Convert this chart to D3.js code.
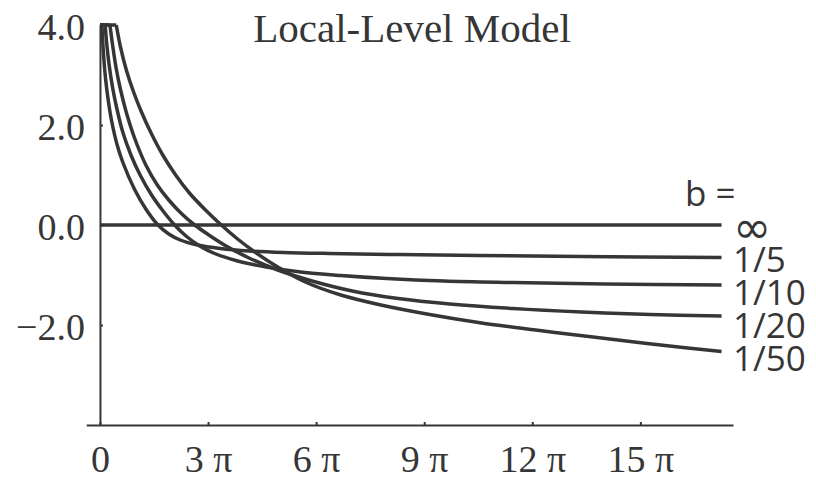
<!DOCTYPE html>
<html>
<head>
<meta charset="utf-8">
<script src="https://cdn.jsdelivr.net/npm/d3@7"></script>
<style>
  body { margin: 0; background: #fff; }
</style>
</head>
<body>
<div id="chart"></div>
<script>
// curve labels, right side
const bNames = ["∞", "1/5", "1/10", "1/20", "1/50"];

// x values are plain numbers (the axis shows them in multiples of pi)
const xInf = [0, 54.2];
const yInf = [0, 0];

const x5 = [0.17, 0.3, 0.5, 0.75, 1.0, 1.5, 2.0, 3.0, 4.0, 5.06, 6.0, 7.0, 8.5, 10.5, 13, 16, 20, 26, 33, 42, 54.2];
const y5 = [4.0, 3.45, 2.9, 2.45, 2.1, 1.6, 1.25, 0.72, 0.32, 0, -0.18, -0.3, -0.4, -0.47, -0.52, -0.55, -0.57, -0.59, -0.61, -0.63, -0.65];

const x10 = [0.45, 0.6, 0.8, 1.1, 1.5, 2.0, 2.7, 3.5, 4.5, 5.5, 6.51, 7.5, 8.7, 10, 12, 14.5, 17.5, 21, 25, 30, 36, 44, 54.2];
const y10 = [4.0, 3.6, 3.2, 2.75, 2.3, 1.85, 1.4, 1.0, 0.6, 0.28, 0, -0.22, -0.42, -0.57, -0.72, -0.84, -0.94, -1.01, -1.07, -1.12, -1.15, -1.18, -1.2];

const x20 = [0.87, 1.1, 1.4, 1.8, 2.3, 3.0, 4.0, 5.0, 6.0, 7.1, 8.26, 9.5, 11, 13, 15.5, 18.5, 22, 26, 30.5, 36, 42, 48, 54.2];
const y20 = [4.0, 3.6, 3.15, 2.7, 2.25, 1.75, 1.2, 0.8, 0.5, 0.23, 0, -0.2, -0.42, -0.66, -0.9, -1.12, -1.32, -1.47, -1.58, -1.67, -1.74, -1.79, -1.82];

const x50 = [1.42, 1.8, 2.3, 2.9, 3.6, 4.5, 5.5, 6.6, 7.8, 9.2, 10.58, 12, 13.5, 15.5, 18, 21, 24.5, 28.5, 33, 38, 43, 48.5, 54.2];
const y50 = [4.0, 3.55, 3.1, 2.68, 2.27, 1.82, 1.39, 1.0, 0.64, 0.3, 0, -0.28, -0.54, -0.84, -1.15, -1.4, -1.6, -1.78, -1.95, -2.1, -2.24, -2.39, -2.53];

// tick values
const xTickMult = [0, 3, 6, 9, 12, 15];
const yTickVals = [4, 2, 0, -2];

const series = [
  { name: bNames[0], xs: xInf, ys: yInf },
  { name: bNames[1], xs: x5, ys: y5 },
  { name: bNames[2], xs: x10, ys: y10 },
  { name: bNames[3], xs: x20, ys: y20 },
  { name: bNames[4], xs: x50, ys: y50 }
];

const width = 816, height = 479;
const ink = "#363636";
const serif = "'Liberation Serif', 'Times New Roman', serif";
const sans = "'Open Sans', 'Noto Sans', sans-serif";

const svg = d3.select("#chart")
  .append("svg")
  .attr("width", width)
  .attr("height", height);

const x = d3.scaleLinear()
  .domain([-1.2, 55.2])
  .range([86.2, 733]);

const y = d3.scaleLinear()
  .domain([-4, 4])
  .range([425, 25]);

// title
svg.append("text")
  .attr("x", 412)
  .attr("y", 42)
  .attr("text-anchor", "middle")
  .style("font-family", serif)
  .style("font-size", "41px")
  .style("fill", ink)
  .text("Local-Level Model");

// x axis
const xAxis = svg.append("g")
  .attr("transform", "translate(0," + y(-4) + ")")
  .call(d3.axisBottom(x)
    .tickValues(xTickMult.map(m => m * Math.PI))
    .tickSizeInner(-3)
    .tickSizeOuter(0)
    .tickPadding(20)
    .tickFormat((d, i) => xTickMult[i] === 0 ? "0" : xTickMult[i] + " π"));

// y axis
const yAxis = svg.append("g")
  .attr("transform", "translate(" + x(0) + ",0)")
  .call(d3.axisLeft(y)
    .tickValues(yTickVals)
    .tickSizeInner(-3)
    .tickSizeOuter(0)
    .tickPadding(15)
    .tickFormat(d => (d < 0 ? "\u2212" : "") + Math.abs(d).toFixed(1)));

[xAxis, yAxis].forEach(g => {
  g.select(".domain").attr("stroke", ink).attr("stroke-width", 2);
  g.selectAll(".tick line").attr("stroke", ink).attr("stroke-width", 2);
  g.selectAll(".tick text")
    .style("font-family", serif)
    .style("font-size", "38px")
    .style("fill", ink);
});
yAxis.selectAll(".tick text").attr("dy", "0.38em");
xAxis.selectAll(".tick text").attr("dy", "0.71em");

// curves
const line = d3.line()
  .x(d => x(d[0]))
  .y(d => y(d[1]))
  .curve(d3.curveCatmullRom.alpha(0.5));

const curves = svg.append("g");

curves.selectAll("path.curve")
  .data(series)
  .enter()
  .append("path")
  .attr("class", "curve")
  .attr("d", d => line(d.xs.map((v, i) => [v, d.ys[i]])))
  .attr("fill", "none")
  .attr("stroke", ink)
  .attr("stroke-width", 3.5);

// where each curve is cut at the top of the plot range
curves.selectAll("path.cut")
  .data(series.slice(1))
  .enter()
  .append("path")
  .attr("class", "cut")
  .attr("d", d => d3.line()([[x(0), y(d.ys[0])], [x(d.xs[0]), y(d.ys[0])]]))
  .attr("stroke", ink)
  .attr("stroke-width", 3.5);

// labels on the right
svg.append("text")
  .attr("x", 685)
  .attr("y", 206)
  .style("font-family", sans)
  .style("font-size", "35px")
  .style("fill", ink)
  .text("b =");

svg.append("g")
  .selectAll("text")
  .data(series)
  .enter()
  .append("text")
  .attr("x", 733)
  .attr("y", (d, i) => i === 0 ? 243 : 239 + i * 33)
  .style("font-family", (d, i) => i === 0 ? "'DejaVu Sans', sans-serif" : sans)
  .style("font-size", (d, i) => i === 0 ? "46px" : "35px")
  .style("fill", ink)
  .text(d => d.name);
</script>
</body>
</html>
